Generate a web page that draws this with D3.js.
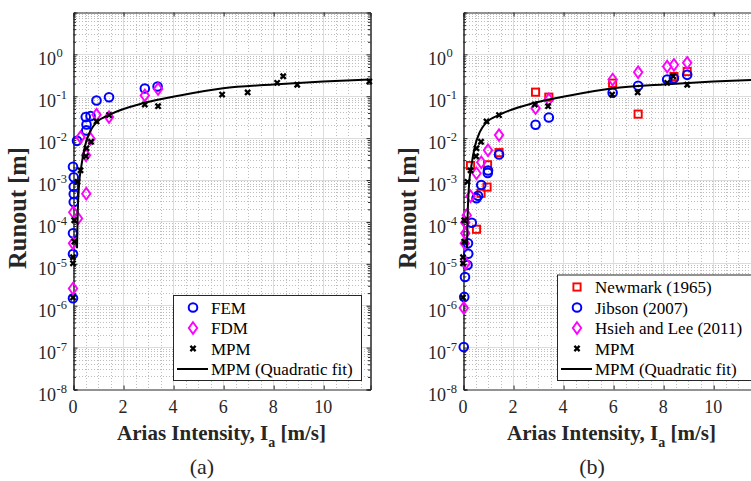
<!DOCTYPE html>
<html>
<head>
<meta charset="utf-8">
<script src="https://cdn.jsdelivr.net/npm/d3@7"></script>
<style>
body { margin: 0; background: #fff; }
</style>
</head>
<body>
<svg id="fig" width="751" height="481"></svg>
<script>
// ---- data ----
var xTicks = [0, 2, 4, 6, 8, 10];
var yExps = [-8, -7, -6, -5, -4, -3, -2, -1, 0];

// MPM quadratic fit
var fitX = [0.16, 0.19, 0.24, 0.34, 0.47, 0.67, 0.93, 1.47, 2.87, 4.27, 6, 8, 10, 11.87];
var fitY = [2.3e-5, 1.7e-4, 7.2e-4, 2.2e-3, 6.0e-3, 0.0135, 0.0229, 0.0355, 0.068, 0.1016, 0.151, 0.186, 0.219, 0.244];

var femX = [2.87, 3.38, 0.94, 1.44, 0.51, 0.70, 0.54, 0.53, 0.16, 0.0, 0.03, 0.03, 0.03, 0.03, 0.0, 0.0, 0.0];
var femY = [0.149, 0.166, 0.0773, 0.0926, 0.031, 0.0327, 0.0207, 0.0149, 0.0084, 0.00202, 0.00113, 6.7e-4, 4.5e-4, 2.9e-4, 5.2e-5, 1.66e-5, 1.47e-6];

var fdmX = [2.87, 3.40, 0.94, 1.44, 0.30, 0.70, 0.52, 0.53, 0.01, 0.20, 0.0, 0.0];
var fdmY = [0.102, 0.145, 0.0353, 0.031, 0.0103, 0.0094, 0.0038, 4.6e-4, 1.66e-4, 1.18e-4, 3.0e-5, 2.5e-6];

var mpmX = [11.84, 8.96, 8.40, 8.16, 6.98, 5.96, 3.40, 2.87, 1.44, 0.94, 0.72, 0.54, 0.52, 0.30, 0.18, 0.05, 0.05, 0.0, 0.0, 0.0];
var mpmY = [0.219, 0.183, 0.293, 0.204, 0.12, 0.107, 0.0565, 0.062, 0.0345, 0.0244, 0.008, 0.0056, 0.0036, 0.00166, 8.8e-4, 1.07e-4, 3.3e-5, 1.4e-5, 1.0e-5, 1.53e-6];

var newmarkX = [2.90, 3.43, 5.98, 7.0, 8.43, 8.96, 1.44, 0.98, 0.30, 0.96, 0.72, 0.54];
var newmarkY = [0.122, 0.0927, 0.2, 0.0365, 0.288, 0.379, 0.0044, 0.00225, 0.00216, 6.6e-4, 4.7e-4, 6.5e-5];

var jibsonX = [2.90, 3.43, 5.98, 7.0, 8.16, 8.43, 8.96, 1.44, 1.0, 0.99, 0.73, 0.60, 0.54, 0.35, 0.20, 0.21, 0.18, 0.08, 0.05, 0.03];
var jibsonY = [0.0204, 0.0304, 0.118, 0.173, 0.244, 0.262, 0.316, 0.00396, 0.00164, 0.00144, 7.4e-4, 4.1e-4, 3.6e-4, 9.3e-5, 3.0e-5, 1.7e-5, 9.1e-6, 4.7e-6, 1.58e-6, 1.0e-7];

var hsiehX = [2.90, 3.43, 5.98, 7.0, 8.16, 8.43, 8.96, 1.44, 1.0, 0.73, 0.54, 0.30, 0.15, 0.09, 0.09, 0.07, 0.11, 0.03];
var hsiehY = [0.0507, 0.0816, 0.244, 0.365, 0.499, 0.547, 0.611, 0.0115, 0.005, 0.00258, 0.00141, 4.0e-4, 1.41e-4, 9.4e-5, 5.2e-5, 3.0e-5, 1.0e-5, 8.6e-7];

// ---- drawing ----
var svg = d3.select("#fig");
var plotTop = 12, plotBottom = 389, panelW = 297;

function marker(g, shape, color) {
    if (shape == "circle") {
        g.append("circle").attr("r", 4.3)
            .attr("fill", "none").attr("stroke", color).attr("stroke-width", 2);
    } else if (shape == "diamond") {
        g.append("path").attr("d", "M0,-5.8L4.2,0L0,5.8L-4.2,0Z")
            .attr("fill", "none").attr("stroke", color).attr("stroke-width", 1.9);
    } else if (shape == "square") {
        g.append("rect").attr("x", -3.6).attr("y", -3.6).attr("width", 7.2).attr("height", 7.2)
            .attr("fill", "none").attr("stroke", color).attr("stroke-width", 1.9);
    } else {
        g.append("path").attr("d", "M-2.6,-2.6L2.6,2.6M-2.6,2.6L2.6,-2.6")
            .attr("stroke", color).attr("stroke-width", 2.3);
    }
}

function panel(left, tag, series, legW) {
    var x = d3.scaleLinear().domain([0, 11.87]).range([left, left + panelW]);
    var y = d3.scaleLog().domain([1e-8, 10]).range([plotBottom, plotTop]);
    var g = svg.append("g");
    var right = left + panelW;

    // minor grid (dotted)
    var minorY = [];
    d3.range(-8, 1).forEach(function(e) {
        d3.range(2, 10).forEach(function(m) { minorY.push(m * Math.pow(10, e)); });
    });
    var minorX = d3.range(0.5, 11.87, 0.5).filter(function(v) { return v % 2 != 0; });
    g.selectAll(".my").data(minorY).enter().append("line")
        .attr("x1", left).attr("x2", right)
        .attr("y1", function(d) { return Math.round(y(d)) + 0.5; })
        .attr("y2", function(d) { return Math.round(y(d)) + 0.5; })
        .attr("stroke", "#bdbdbd").attr("stroke-dasharray", "1,2");
    g.selectAll(".mx").data(minorX).enter().append("line")
        .attr("y1", plotTop).attr("y2", plotBottom)
        .attr("x1", function(d) { return Math.round(x(d)) + 0.5; })
        .attr("x2", function(d) { return Math.round(x(d)) + 0.5; })
        .attr("stroke", "#bdbdbd").attr("stroke-dasharray", "1,2");

    // major grid
    g.selectAll(".gy").data(yExps.slice(1)).enter().append("line")
        .attr("x1", left).attr("x2", right)
        .attr("y1", function(d) { return Math.round(y(Math.pow(10, d))) + 0.5; })
        .attr("y2", function(d) { return Math.round(y(Math.pow(10, d))) + 0.5; })
        .attr("stroke", "#dcdcdc");
    g.selectAll(".gx").data(xTicks.slice(1)).enter().append("line")
        .attr("y1", plotTop).attr("y2", plotBottom)
        .attr("x1", function(d) { return Math.round(x(d)) + 0.5; })
        .attr("x2", function(d) { return Math.round(x(d)) + 0.5; })
        .attr("stroke", "#dcdcdc");

    // axes with inward ticks, left/right and bottom/top
    var yMaj = yExps.map(function(e) { return Math.pow(10, e); });
    var axL = d3.axisRight(y).tickValues(yMaj).tickSize(4).tickFormat("");
    var axR = d3.axisLeft(y).tickValues(yMaj).tickSize(4).tickFormat("");
    var axLm = d3.axisRight(y).tickValues(minorY).tickSize(2.5).tickFormat("");
    var axRm = d3.axisLeft(y).tickValues(minorY).tickSize(2.5).tickFormat("");
    var axB = d3.axisTop(x).tickValues(xTicks).tickSize(4).tickFormat("");
    var axT = d3.axisBottom(x).tickValues(xTicks).tickSize(4).tickFormat("");
    [[axL, left, 0], [axLm, left, 0], [axR, right, 0], [axRm, right, 0], [axB, 0, plotBottom], [axT, 0, plotTop]].forEach(function(a) {
        var ag = g.append("g").attr("transform", "translate(" + (a[1] + 0.5) + "," + (a[2] + 0.5) + ")").call(a[0]);
        ag.select(".domain").attr("stroke", "#262626");
        ag.selectAll(".tick line").attr("stroke", "#262626");
    });

    // y tick labels 10^e
    yExps.forEach(function(e) {
        var ty = y(Math.pow(10, e));
        g.append("text").attr("x", left - 17).attr("y", ty + 11.5)
            .attr("text-anchor", "end").attr("font-size", 18).text("10");
        g.append("text").attr("x", left - 16.5).attr("y", ty + 3.5)
            .attr("font-size", 12.5).text(String(e));
    });
    // x tick labels
    g.selectAll(".xl").data(xTicks).enter().append("text")
        .attr("x", function(d) { return x(d); }).attr("y", 413)
        .attr("text-anchor", "middle").attr("font-size", 18)
        .text(function(d) { return d; });

    // axis titles
    var xt = g.append("text").attr("x", (left + right) / 2).attr("y", 440)
        .attr("text-anchor", "middle").attr("font-size", 21).attr("font-weight", "bold");
    xt.append("tspan").text("Arias Intensity, I");
    xt.append("tspan").attr("font-size", 14).attr("dy", 7).text("a");
    xt.append("tspan").attr("dy", -7).text(" [m/s]");
    g.append("text").attr("transform", "translate(" + (left - 47) + ",208) rotate(-90)")
        .attr("text-anchor", "middle").attr("font-size", 24.5).attr("font-weight", "bold")
        .text("Runout [m]");
    g.append("text").attr("x", (left + right) / 2 - 19.5).attr("y", 474)
        .attr("text-anchor", "middle").attr("font-size", 22).text(tag);

    // data markers and the fit line
    series.forEach(function(s) {
        if (s.shape == "line") {
            var pts = s.xs.map(function(v, i) { return [x(v), y(s.ys[i])]; });
            g.append("path").attr("d", d3.line().curve(d3.curveMonotoneX)(pts))
                .attr("fill", "none").attr("stroke", "#000").attr("stroke-width", 2);
        } else {
            s.xs.forEach(function(v, i) {
                var mg = g.append("g").attr("transform", "translate(" + x(v) + "," + y(s.ys[i]) + ")");
                marker(mg, s.shape, s.color);
            });
        }
    });

    // legend
    var rowH = 20.5;
    var legH = series.length * rowH + 3;
    var lx = right - 9 - legW, ly = plotBottom - 9 - legH;
    var lg = g.append("g").attr("transform", "translate(" + lx + "," + ly + ")");
    lg.append("rect").attr("x", 0.5).attr("y", 0.5).attr("width", legW).attr("height", legH)
        .attr("fill", "#fff").attr("stroke", "#262626").attr("stroke-width", 1);
    series.forEach(function(s, i) {
        var cy = 12.5 + i * rowH;
        if (s.shape == "line") {
            lg.append("line").attr("x1", 4).attr("x2", 35).attr("y1", cy).attr("y2", cy)
                .attr("stroke", "#000").attr("stroke-width", 2);
        } else {
            marker(lg.append("g").attr("transform", "translate(20," + cy + ")"), s.shape, s.color);
        }
        lg.append("text").attr("class", "leg").attr("x", 38).attr("y", cy + 6).attr("font-size", 17).text(s.name);
    });
}

var mpmSeries = { name: "MPM", xs: mpmX, ys: mpmY, shape: "x", color: "#000" };
var fitSeries = { name: "MPM (Quadratic fit)", xs: fitX, ys: fitY, shape: "line", color: "#000" };

panel(73, "(a)", [
    { name: "FEM", xs: femX, ys: femY, shape: "circle", color: "#0000ff" },
    { name: "FDM", xs: fdmX, ys: fdmY, shape: "diamond", color: "#ff00ff" },
    mpmSeries, fitSeries
], 188);

panel(463, "(b)", [
    { name: "Newmark (1965)", xs: newmarkX, ys: newmarkY, shape: "square", color: "#ff0000" },
    { name: "Jibson (2007)", xs: jibsonX, ys: jibsonY, shape: "circle", color: "#0000ff" },
    { name: "Hsieh and Lee (2011)", xs: hsiehX, ys: hsiehY, shape: "diamond", color: "#ff00ff" },
    mpmSeries, fitSeries
], 194);

svg.selectAll("text")
    .style("font-family", "'Liberation Serif', 'Times New Roman', serif")
    .style("fill", "#262626");
svg.selectAll("text.leg").style("fill", "#000");
</script>
</body>
</html>
